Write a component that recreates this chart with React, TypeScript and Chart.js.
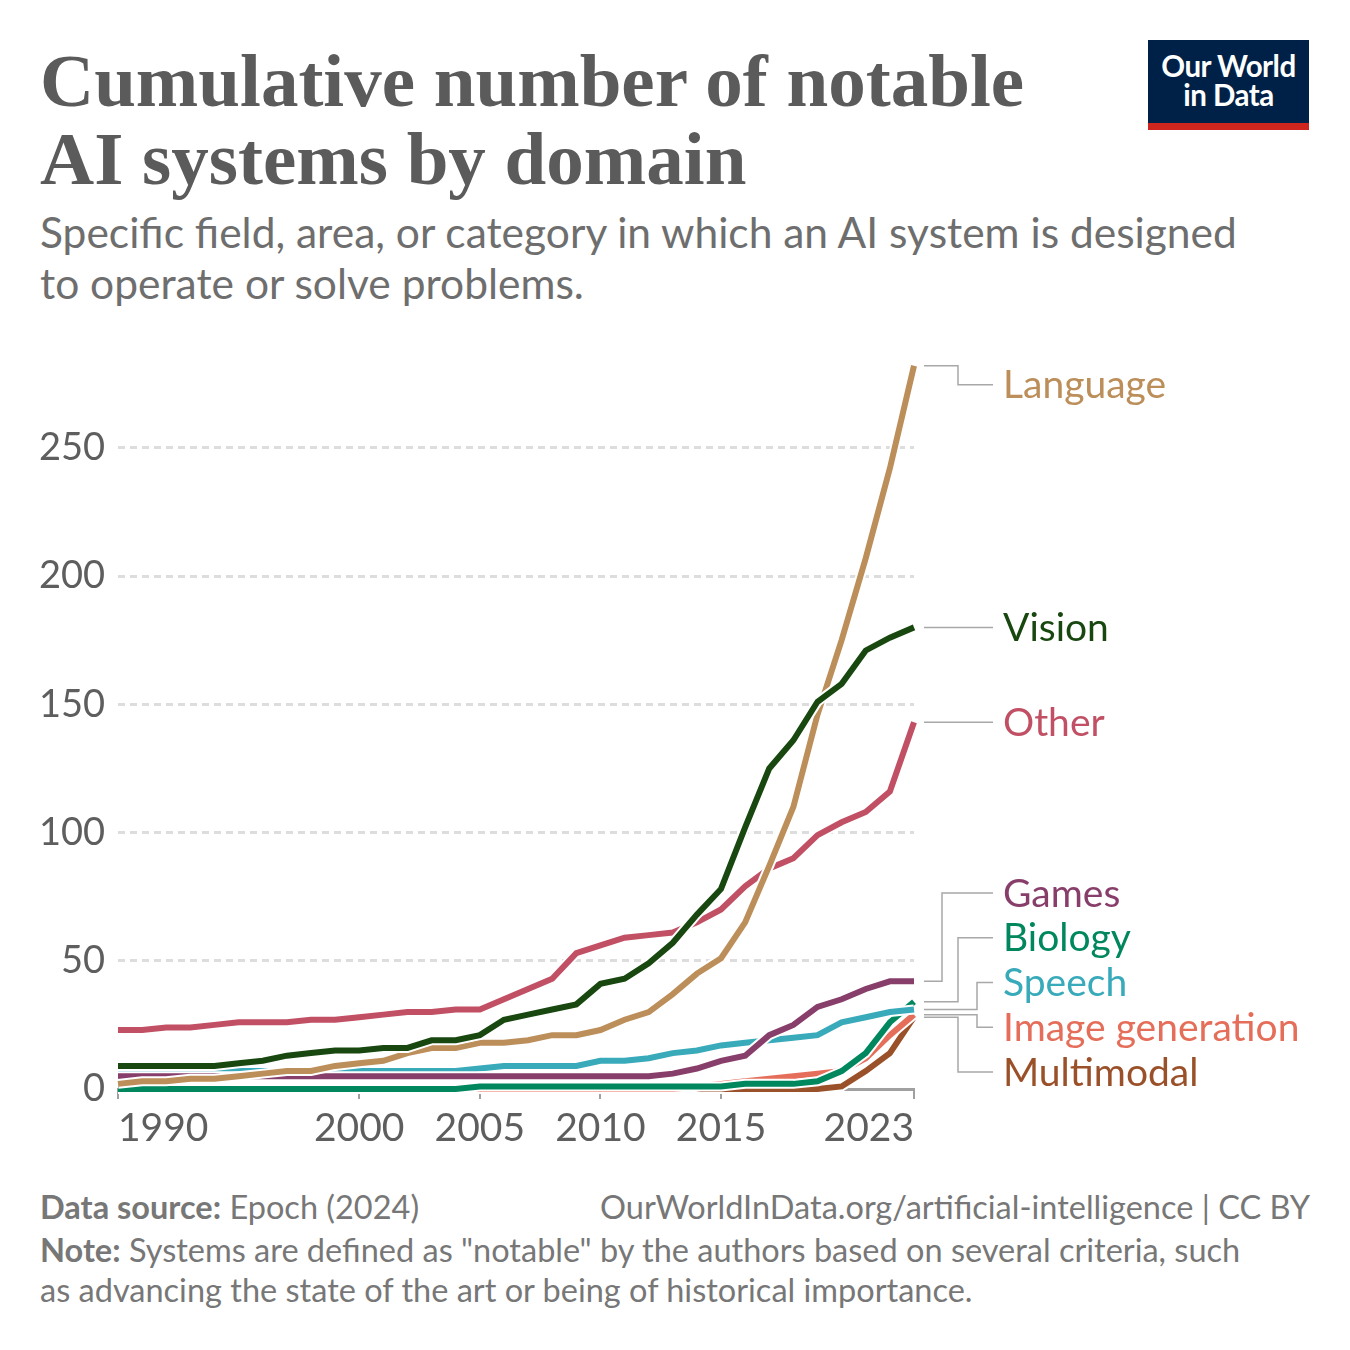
import React, { useEffect, useRef } from "react";
import { Chart, registerables } from "chart.js";
Chart.register(...registerables);

// yearly values
const years = [
  1990, 1991, 1992, 1993, 1994, 1995, 1996, 1997, 1998, 1999,
  2000, 2001, 2002, 2003, 2004, 2005, 2006, 2007, 2008, 2009,
  2010, 2011, 2012, 2013, 2014, 2015, 2016, 2017, 2018, 2019,
  2020, 2021, 2022, 2023,
];
const language = [
  2, 3, 3, 4, 4, 5, 6, 7, 7, 9,
  10, 11, 14, 16, 16, 18, 18, 19, 21, 21,
  23, 27, 30, 37, 45, 51, 65, 87, 110, 146,
  175, 207, 242, 282,
];
const vision = [
  9, 9, 9, 9, 9, 10, 11, 13, 14, 15,
  15, 16, 16, 19, 19, 21, 27, 29, 31, 33,
  41, 43, 49, 57, 68, 78, 102, 125, 136, 151,
  158, 171, 176, 180,
];
const other = [
  23, 23, 24, 24, 25, 26, 26, 26, 27, 27,
  28, 29, 30, 30, 31, 31, 35, 39, 43, 53,
  56, 59, 60, 61, 65, 70, 79, 86, 90, 99,
  104, 108, 116, 143,
];
const games = [
  5, 5, 5, 5, 5, 5, 5, 5, 5, 5,
  5, 5, 5, 5, 5, 5, 5, 5, 5, 5,
  5, 5, 5, 6, 8, 11, 13, 21, 25, 32,
  35, 39, 42, 42,
];
const biology = [
  0, 0, 0, 0, 0, 0, 0, 0, 0, 0,
  0, 0, 0, 0, 0, 1, 1, 1, 1, 1,
  1, 1, 1, 1, 1, 1, 2, 2, 2, 3,
  7, 14, 26, 34,
];
const speech = [
  6, 6, 7, 7, 7, 7, 7, 7, 7, 7,
  7, 7, 7, 7, 7, 8, 9, 9, 9, 9,
  11, 11, 12, 14, 15, 17, 18, 19, 20, 21,
  26, 28, 30, 31,
];
const imageGeneration = [
  0, 0, 0, 0, 0, 0, 0, 0, 0, 0,
  0, 0, 0, 0, 0, 0, 0, 0, 0, 0,
  0, 0, 0, 0, 1, 2, 3, 4, 5, 6,
  7, 12, 21, 29,
];
const multimodal = [
  null, null, null, null, null, null, null, null, null, null,
  null, null, null, null, null, null, null, null, null, null,
  null, null, null, null, 0, 0, 0, 0, 0, 0,
  1, 7, 14, 28,
];

const xTickYears = [1990, 2000, 2005, 2010, 2015, 2023];
const yTickValues = [0, 50, 100, 150, 200, 250];

// name, values, colour, draw order (lower = on top), elbow offset for the label connector
const series = [
  { name: "Language", values: language, color: "#bc8e5a", order: 2, elbow: 44 },
  { name: "Vision", values: vision, color: "#18470f", order: 1, elbow: 44 },
  { name: "Other", values: other, color: "#c15065", order: 3, elbow: 44 },
  { name: "Games", values: games, color: "#883e6a", order: 4, elbow: 28 },
  { name: "Biology", values: biology, color: "#00875e", order: 6, elbow: 44 },
  { name: "Speech", values: speech, color: "#38aaba", order: 5, elbow: 63 },
  { name: "Image generation", values: imageGeneration, color: "#e56e5a", order: 7, elbow: 63 },
  { name: "Multimodal", values: multimodal, color: "#9a5129", order: 8, elbow: 44 },
];

const FONT = "Lato, 'Noto Sans', sans-serif";

const labelsPlugin = {
  id: "owidLabels",
  afterDraw(chart: any) {
    const { ctx, chartArea } = chart;
    const xs = chart.scales.x;
    const ys = chart.scales.y;
    ctx.save();

    // x tick labels: first left aligned, last right aligned
    ctx.font = `39px ${FONT}`;
    ctx.fillStyle = "#5e5e5e";
    ctx.textBaseline = "alphabetic";
    xTickYears.forEach((yr, i) => {
      ctx.textAlign = i === 0 ? "left" : i === xTickYears.length - 1 ? "right" : "center";
      ctx.fillText(String(yr), xs.getPixelForValue(yr), chartArea.bottom + 52);
    });

    // end-of-line labels
    const items = series.map((s) => {
      const last = s.values[s.values.length - 1] as number;
      const py = ys.getPixelForValue(last);
      return { s, py, ly: py };
    });
    items.sort((a, b) => a.py - b.py);
    const gap = 44.75;
    const minY = chartArea.top + 19;
    const maxY = chartArea.bottom - 17;
    items.forEach((it, i) => {
      it.ly = Math.max(it.ly, minY);
      if (i > 0) it.ly = Math.max(it.ly, items[i - 1].ly + gap);
    });
    for (let i = items.length - 1; i >= 0; i--) {
      if (i === items.length - 1) items[i].ly = Math.min(items[i].ly, maxY);
      else items[i].ly = Math.min(items[i].ly, items[i + 1].ly - gap);
    }

    const x0 = chartArea.right + 10;
    const x1 = chartArea.right + 79;
    ctx.strokeStyle = "#a8a8a8";
    ctx.lineWidth = 1.5;
    items.forEach((it) => {
      ctx.beginPath();
      if (Math.abs(it.ly - it.py) < 3) {
        ctx.moveTo(x0, it.py);
        ctx.lineTo(x1, it.py);
      } else {
        const xe = chartArea.right + it.s.elbow;
        ctx.moveTo(x0, it.py);
        ctx.lineTo(xe, it.py);
        ctx.lineTo(xe, it.ly);
        ctx.lineTo(x1, it.ly);
      }
      ctx.stroke();
    });

    ctx.font = `39px ${FONT}`;
    ctx.textAlign = "left";
    ctx.textBaseline = "middle";
    items.forEach((it) => {
      ctx.fillStyle = it.s.color;
      ctx.fillText(it.s.name, chartArea.right + 89, it.ly + 1);
    });
    ctx.restore();
  },
};

const AIDomainChart: React.FC = () => {
  const chartRef = useRef<HTMLCanvasElement | null>(null);
  const chartInstanceRef = useRef<Chart | null>(null);

  useEffect(() => {
    document.body.style.margin = "0";
    if (!chartRef.current) return;

    const datasets: any[] = [];
    series.forEach((s) => {
      const pts = years.map((yr, i) => ({ x: yr, y: s.values[i] }));
      // white halo under each line
      datasets.push({
        label: s.name + " halo",
        data: pts,
        borderColor: "#ffffff",
        borderWidth: 10,
        pointRadius: 0,
        order: s.order + 0.5,
        clip: false,
      });
      datasets.push({
        label: s.name,
        data: pts,
        borderColor: s.color,
        borderWidth: 6,
        pointRadius: 0,
        order: s.order,
        clip: false,
      });
    });

    chartInstanceRef.current = new Chart(chartRef.current, {
      type: "line",
      data: { datasets },
      options: {
        animation: false,
        responsive: true,
        maintainAspectRatio: false,
        layout: { padding: { top: 35, left: 0, right: 436, bottom: 0 } },
        plugins: {
          legend: { display: false },
          tooltip: { enabled: false },
        },
        elements: { line: { tension: 0, borderCapStyle: "butt", borderJoinStyle: "miter" } },
        scales: {
          x: {
            type: "linear",
            min: 1990,
            max: 2023,
            afterBuildTicks: (s: any) => {
              s.ticks = xTickYears.map((v) => ({ value: v }));
            },
            afterFit: (s: any) => {
              s.height = 71;
            },
            ticks: { display: false },
            grid: {
              drawOnChartArea: false,
              drawTicks: true,
              tickLength: 10,
              color: "#a0a0a0",
              lineWidth: 2,
            },
            border: { display: true, color: "#a0a0a0", width: 3 },
          },
          y: {
            type: "linear",
            min: 0,
            max: 282,
            afterBuildTicks: (s: any) => {
              s.ticks = yTickValues.map((v) => ({ value: v }));
            },
            afterFit: (s: any) => {
              s.width = 118;
            },
            ticks: {
              padding: 13,
              color: "#5e5e5e",
              font: { family: FONT, size: 38 },
            },
            grid: {
              drawTicks: false,
              lineWidth: 3,
              color: (c: any) => (c.tick && c.tick.value === 0 ? "rgba(0,0,0,0)" : "#dddddd"),
            },
            border: { display: false, dash: [7, 5] },
          },
        },
      },
      plugins: [labelsPlugin],
    });

    return () => {
      if (chartInstanceRef.current) {
        chartInstanceRef.current.destroy();
      }
    };
  }, []);

  return (
    <div style={{ position: "relative", width: 1350, height: 1350, background: "#fff", fontFamily: FONT }}>
      <div
        style={{
          position: "absolute",
          left: 40,
          top: 42,
          fontFamily: "'Liberation Serif', 'DejaVu Serif', serif",
          fontWeight: 700,
          fontSize: 75,
          lineHeight: "78px",
          color: "#5b5b5b",
          whiteSpace: "nowrap",
        }}
      >
        Cumulative number of notable
        <br />
        AI systems by domain
      </div>
      <div
        style={{
          position: "absolute",
          left: 40,
          top: 206,
          fontSize: 42.5,
          lineHeight: "51px",
          color: "#6e6e6e",
          whiteSpace: "nowrap",
        }}
      >
        Specific field, area, or category in which an AI system is designed
        <br />
        to operate or solve problems.
      </div>
      <div
        style={{
          position: "absolute",
          left: 1148,
          top: 40,
          width: 161,
          height: 90,
          background: "#002147",
          borderBottom: "7px solid #ce261e",
          boxSizing: "border-box",
          color: "#fff",
          fontWeight: 700,
          fontSize: 29.5,
          lineHeight: "29px",
          textAlign: "center",
          paddingTop: 11,
          whiteSpace: "nowrap",
          letterSpacing: -0.5,
        }}
      >
        Our World
        <br />
        in Data
      </div>
      <div style={{ position: "absolute", left: 0, top: 330, width: 1350, height: 830 }}>
        <canvas ref={chartRef} />
      </div>
      <div
        style={{
          position: "absolute",
          left: 40,
          top: 1185,
          width: 1270,
          fontSize: 32.5,
          lineHeight: "44px",
          color: "#777",
          whiteSpace: "nowrap",
        }}
      >
        <div style={{ display: "flex", justifyContent: "space-between" }}>
          <span>
            <b>Data source:</b> Epoch (2024)
          </span>
          <span>OurWorldInData.org/artificial-intelligence | CC BY</span>
        </div>
        <div style={{ lineHeight: "40px", marginTop: 1 }}>
          <b>Note:</b> Systems are defined as "notable" by the authors based on several criteria, such
          <br />
          as advancing the state of the art or being of historical importance.
        </div>
      </div>
    </div>
  );
};

export default function App() {
  return <AIDomainChart />;
}
